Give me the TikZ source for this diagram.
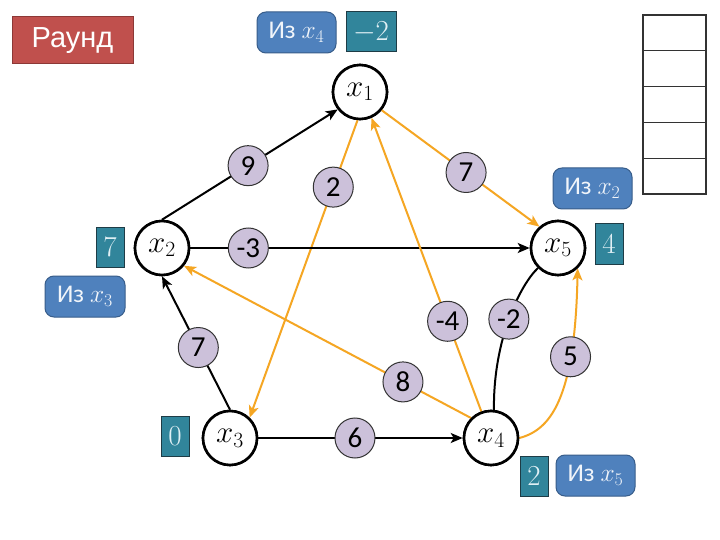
\RequirePackage{fix-cm}
\documentclass[tikz,border=0pt]{standalone}
\usepackage[no-math]{fontspec}
\setmainfont{Carlito}
\newfontfamily\rfont{Liberation Sans}
\usetikzlibrary{arrows.meta}
\definecolor{orng}{RGB}{245,166,35}
\definecolor{lav}{RGB}{204,193,218}
\definecolor{bluebox}{RGB}{79,129,189}
\definecolor{blueedge}{RGB}{56,93,138}
\definecolor{tealbox}{RGB}{49,133,155}
\definecolor{tealedge}{RGB}{30,60,70}
\definecolor{redbox}{RGB}{192,80,77}
\definecolor{rededge}{RGB}{140,56,54}
\definecolor{paletext}{RGB}{225,240,245}
\tikzset{
  v/.style={circle, draw, line width=2.6pt, minimum size=54pt, inner sep=0pt, fill=white,
    font=\fontsize{31}{33}\selectfont},
  w/.style={circle, draw=black!80, line width=1pt, fill=lav, minimum size=40pt, inner sep=0pt,
    font=\fontsize{29}{31}\selectfont},
  blk/.style={draw=black, line width=2pt, -{Stealth[length=12pt,width=10pt,inset=3pt]}},
  org/.style={draw=orng, line width=2pt, -{Stealth[length=12pt,width=10pt,inset=3pt]}},
  plainedge/.style={draw=black, line width=2pt},
  izbox/.style={rounded corners=9pt, draw=blueedge, line width=1pt, fill=bluebox,
    minimum width=79pt, minimum height=41pt, inner sep=0pt, text=white!92!bluebox,
    font=\fontsize{25.5}{27}\selectfont},
  valbox/.style={draw=tealedge, line width=1pt, fill=tealbox, minimum width=28pt,
    minimum height=40pt, inner sep=0pt, text=paletext, font=\fontsize{29}{31}\selectfont},
  tcell/.style={draw=black!80, line width=1.2pt, minimum width=63pt, minimum height=35.8pt,
    inner sep=0pt, fill=white},
}
\begin{document}
\begin{tikzpicture}[x=1pt,y=1pt]
\useasboundingbox (0,0) rectangle (720,-540);
\fill[white] (0,0) rectangle (720,-540);
% round label
\node[draw=rededge, line width=1pt, fill=redbox, minimum width=121pt, minimum height=47pt,
  inner sep=0pt, text=white, font=\rfont\fontsize{29}{31}\selectfont] (round) at (72.5,-40.5) {Раунд};
% table
\foreach \i in {0,...,4} {
  \node[tcell] (t\i) at (674.5,{-33-35.8*\i}) {};
}
% vertices
\node[v] (x1) at (360,-92) {$x_1$};
\node[v] (x2) at (162,-248) {$x_2$};
\node[v] (x3) at (230,-438) {$x_3$};
\node[v] (x4) at (491,-438) {$x_4$};
\node[v] (x5) at (558,-248) {$x_5$};
% edges
\draw[blk] (x2.north) -- node[w,pos=0.49] (w9) {9} (x1.218);
\draw[org] (x1.265) -- node[w,pos=0.225] (w2) {2} (x3.46);
\draw[org] (x1.320) -- node[w,pos=0.535] (w7a) {7} (x5.131);
\draw[blk] (x2.east) -- node[w,pos=0.171] (wm3) {-3} (x5.west);
\draw[org] (x4.110) -- node[w,pos=0.307] (wm4) {-4} (x1.294);
\draw[org] (x4.135) -- node[w,pos=0.237] (w8) {8} (x2.321);
\draw[blk] (x3.north) -- node[w,pos=0.466] (w7b) {7} (x2.south);
\draw[blk] (x3.east) -- node[w,pos=0.473] (w6) {6} (x4.west);
\draw[org] (x4.east) .. controls (550,-430) and (575,-400) .. node[w,pos=0.72] (w5) {5} (x5.314);
\draw[plainedge] (x5.225) .. controls (520,-285) and (493,-340) .. node[w,pos=0.5] (wm2) {-2} (x4.84);
% redraw vertices on top
\node[v] at (x1) {$x_1$};
\node[v] at (x2) {$x_2$};
\node[v] at (x3) {$x_3$};
\node[v] at (x4) {$x_4$};
\node[v] at (x5) {$x_5$};
% value boxes
\node[valbox, minimum width=50pt] (d1) at (371,-32) {$-2$};
\node[valbox] (d2) at (110,-247.5) {$7$};
\node[valbox] (d3) at (175,-436) {$0$};
\node[valbox] (d4) at (534,-476) {$2$};
\node[valbox] (d5) at (609,-244) {$4$};
% from boxes
\node[izbox] (f1) at (296.5,-32.5) {Из $x_4$};
\node[izbox] (f5) at (592.5,-188.5) {Из $x_2$};
\node[izbox, minimum width=80pt] (f2) at (85,-296.5) {Из $x_3$};
\node[izbox] (f4) at (595.5,-475.5) {Из $x_5$};
\end{tikzpicture}
\end{document}
